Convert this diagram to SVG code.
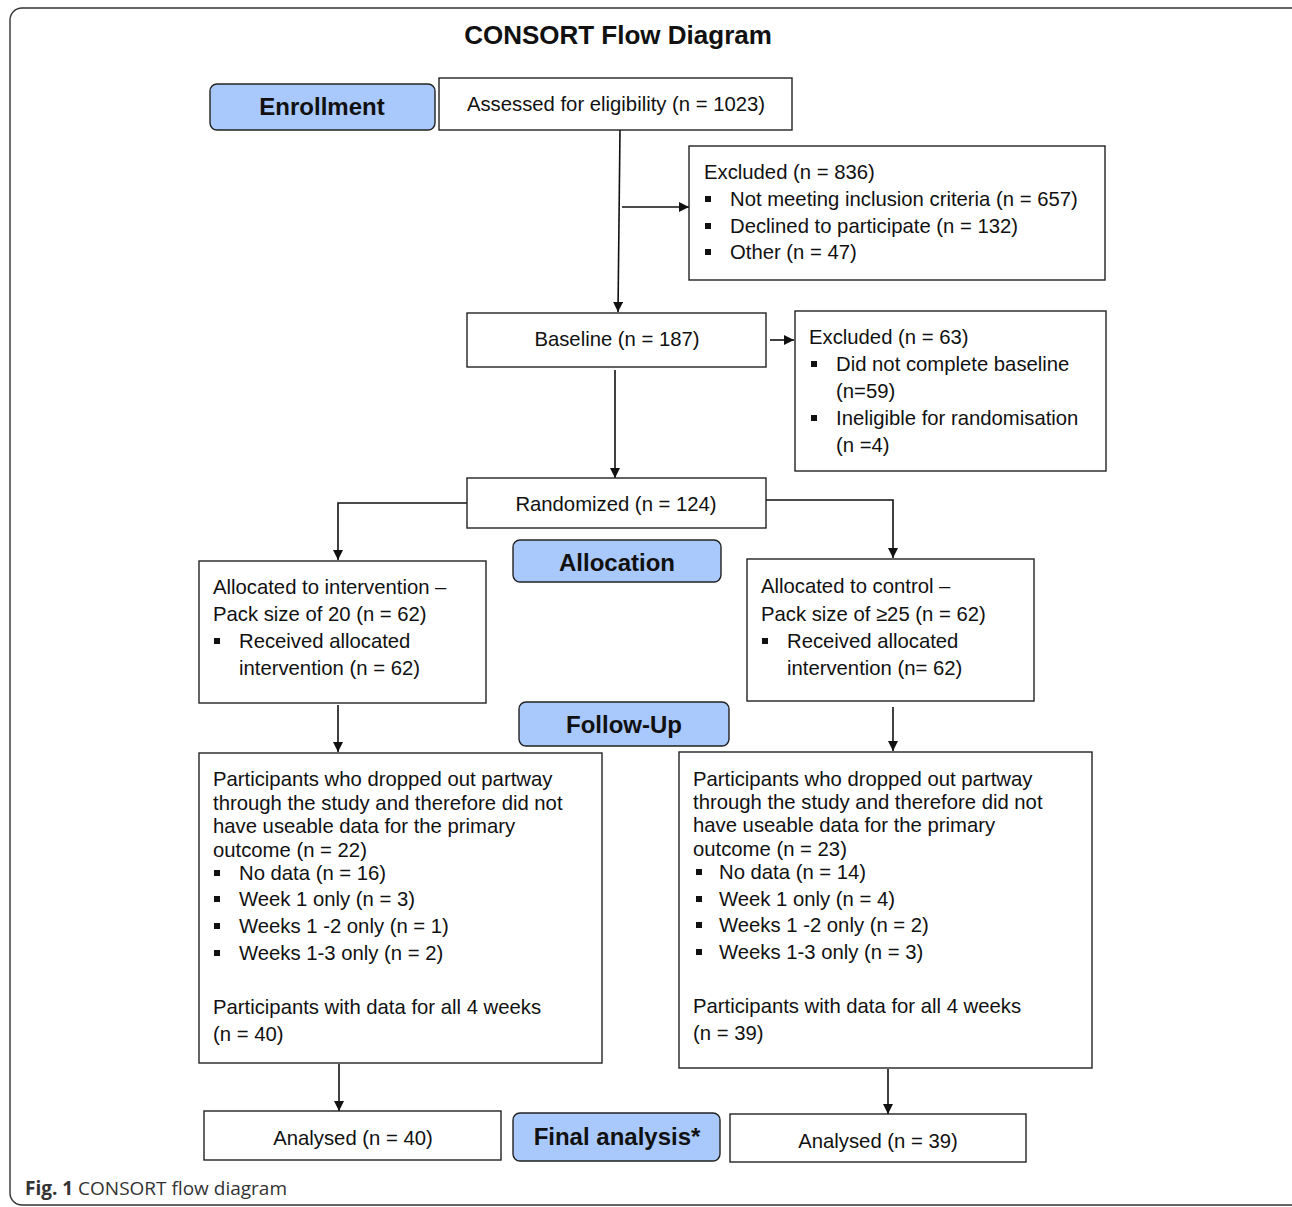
<svg xmlns="http://www.w3.org/2000/svg" width="1292" height="1207" viewBox="0 0 1292 1207">
<style>
.box{fill:#fff;stroke:#222;stroke-width:1.4}
.lbl{fill:#a9c8fb;stroke:#222;stroke-width:1.4}
.t{font-family:"Liberation Sans",Arial,sans-serif;font-size:20.3px;fill:#111}
.c{text-anchor:middle}
.b{font-family:"Liberation Sans",Arial,sans-serif;font-size:24px;font-weight:bold;fill:#111;text-anchor:middle}
.ln{fill:none;stroke:#111;stroke-width:1.6}
.bul{fill:#111}
</style>
<defs>
<marker id="ah" viewBox="0 0 10 10" refX="10" refY="5" markerWidth="10" markerHeight="10" markerUnits="userSpaceOnUse" orient="auto">
<path d="M0,0 L10,5 L0,10 z" fill="#111"/>
</marker>
<g id="sq"><rect x="-3" y="-3" width="6" height="6"/></g>
</defs>
<rect x="10" y="8" width="1300" height="1197" rx="12" ry="12" fill="#fff" stroke="#333" stroke-width="1.4"/>
<text x="618" y="44" class="b" style="font-size:26px">CONSORT Flow Diagram</text>

<g id="connectors">
<path class="ln" d="M620,130 L618,312" marker-end="url(#ah)"/>
<path class="ln" d="M622,207 L689,207" marker-end="url(#ah)"/>
<path class="ln" d="M770,340 L794,340" marker-end="url(#ah)"/>
<path class="ln" d="M615,370 L615,478" marker-end="url(#ah)"/>
<path class="ln" d="M467,503 L338,503 L338,560" marker-end="url(#ah)"/>
<path class="ln" d="M766,500 L893,500 L893,558" marker-end="url(#ah)"/>
<path class="ln" d="M338,705 L338,752" marker-end="url(#ah)"/>
<path class="ln" d="M893,707 L893,751" marker-end="url(#ah)"/>
<path class="ln" d="M339,1064 L339,1111" marker-end="url(#ah)"/>
<path class="ln" d="M888,1069 L888,1114" marker-end="url(#ah)"/>
</g>

<g id="enrollment">
<rect class="lbl" x="210" y="84" width="225" height="46" rx="7"/>
<text x="322" y="115" class="b">Enrollment</text>
</g>
<g id="assessed">
<rect class="box" x="439" y="78" width="353" height="52"/>
<text x="616" y="111" class="t c">Assessed for eligibility (n = 1023)</text>
</g>
<g id="excluded1">
<rect class="box" x="689" y="146" width="416" height="134"/>
<text x="704" y="179" class="t">Excluded (n = 836)</text>
<use href="#sq" x="708" y="199" class="bul"/>
<text x="730" y="206" class="t">Not meeting inclusion criteria (n = 657)</text>
<use href="#sq" x="708" y="226" class="bul"/>
<text x="730" y="233" class="t">Declined to participate (n = 132)</text>
<use href="#sq" x="708" y="252" class="bul"/>
<text x="730" y="259" class="t">Other (n = 47)</text>
</g>
<g id="baseline">
<rect class="box" x="467" y="313" width="299" height="54"/>
<text x="617" y="346" class="t c">Baseline (n = 187)</text>
</g>
<g id="excluded2">
<rect class="box" x="795" y="311" width="311" height="160"/>
<text x="809" y="344" class="t">Excluded (n = 63)</text>
<use href="#sq" x="814" y="364" class="bul"/>
<text x="836" y="371" class="t">Did not complete baseline</text>
<text x="836" y="398" class="t">(n=59)</text>
<use href="#sq" x="814" y="418" class="bul"/>
<text x="836" y="425" class="t">Ineligible for randomisation</text>
<text x="836" y="452" class="t">(n =4)</text>
</g>
<g id="randomized">
<rect class="box" x="467" y="478" width="299" height="50"/>
<text x="616" y="511" class="t c">Randomized (n = 124)</text>
</g>
<g id="allocation">
<rect class="lbl" x="513" y="540" width="208" height="42" rx="7"/>
<text x="617" y="571" class="b">Allocation</text>
</g>
<g id="alloc-intervention">
<rect class="box" x="199" y="561" width="287" height="142"/>
<text x="213" y="594" class="t">Allocated to intervention –</text>
<text x="213" y="621" class="t">Pack size of 20 (n = 62)</text>
<use href="#sq" x="217" y="641" class="bul"/>
<text x="239" y="648" class="t">Received allocated</text>
<text x="239" y="675" class="t">intervention (n = 62)</text>
</g>
<g id="alloc-control">
<rect class="box" x="747" y="559" width="287" height="142"/>
<text x="761" y="593" class="t">Allocated to control –</text>
<text x="761" y="621" class="t">Pack size of ≥25 (n = 62)</text>
<use href="#sq" x="765" y="641" class="bul"/>
<text x="787" y="648" class="t">Received allocated</text>
<text x="787" y="675" class="t">intervention (n= 62)</text>
</g>
<g id="followup">
<rect class="lbl" x="519" y="702" width="210" height="44" rx="7"/>
<text x="624" y="733" class="b">Follow-Up</text>
</g>
<g id="followup-intervention">
<rect class="box" x="199" y="753" width="403" height="310"/>
<text x="213" y="786" class="t">Participants who dropped out partway</text>
<text x="213" y="810" class="t">through the study and therefore did not</text>
<text x="213" y="833" class="t">have useable data for the primary</text>
<text x="213" y="857" class="t">outcome (n = 22)</text>
<use href="#sq" x="217" y="873" class="bul"/>
<text x="239" y="880" class="t">No data (n = 16)</text>
<use href="#sq" x="217" y="899" class="bul"/>
<text x="239" y="906" class="t">Week 1 only (n = 3)</text>
<use href="#sq" x="217" y="926" class="bul"/>
<text x="239" y="933" class="t">Weeks 1 -2 only (n = 1)</text>
<use href="#sq" x="217" y="953" class="bul"/>
<text x="239" y="960" class="t">Weeks 1-3 only (n = 2)</text>
<text x="213" y="1014" class="t">Participants with data for all 4 weeks</text>
<text x="213" y="1041" class="t">(n = 40)</text>
</g>
<g id="followup-control">
<rect class="box" x="679" y="752" width="413" height="316"/>
<text x="693" y="786" class="t">Participants who dropped out partway</text>
<text x="693" y="809" class="t">through the study and therefore did not</text>
<text x="693" y="832" class="t">have useable data for the primary</text>
<text x="693" y="856" class="t">outcome (n = 23)</text>
<use href="#sq" x="699" y="872" class="bul"/>
<text x="719" y="879" class="t">No data (n = 14)</text>
<use href="#sq" x="699" y="899" class="bul"/>
<text x="719" y="906" class="t">Week 1 only (n = 4)</text>
<use href="#sq" x="699" y="925" class="bul"/>
<text x="719" y="932" class="t">Weeks 1 -2 only (n = 2)</text>
<use href="#sq" x="699" y="952" class="bul"/>
<text x="719" y="959" class="t">Weeks 1-3 only (n = 3)</text>
<text x="693" y="1013" class="t">Participants with data for all 4 weeks</text>
<text x="693" y="1040" class="t">(n = 39)</text>
</g>
<g id="analysed-intervention">
<rect class="box" x="204" y="1111" width="297" height="49"/>
<text x="353" y="1145" class="t c">Analysed (n = 40)</text>
</g>
<g id="final-analysis">
<rect class="lbl" x="513" y="1113" width="207" height="48" rx="7"/>
<text x="617" y="1145" class="b">Final analysis*</text>
</g>
<g id="analysed-control">
<rect class="box" x="730" y="1114" width="296" height="48"/>
<text x="878" y="1148" class="t c">Analysed (n = 39)</text>
</g>
<text x="25" y="1195" style="font-family:'Open Sans',sans-serif;font-size:19px;fill:#333"><tspan font-weight="bold">Fig. 1</tspan> CONSORT flow diagram</text>
</svg>
